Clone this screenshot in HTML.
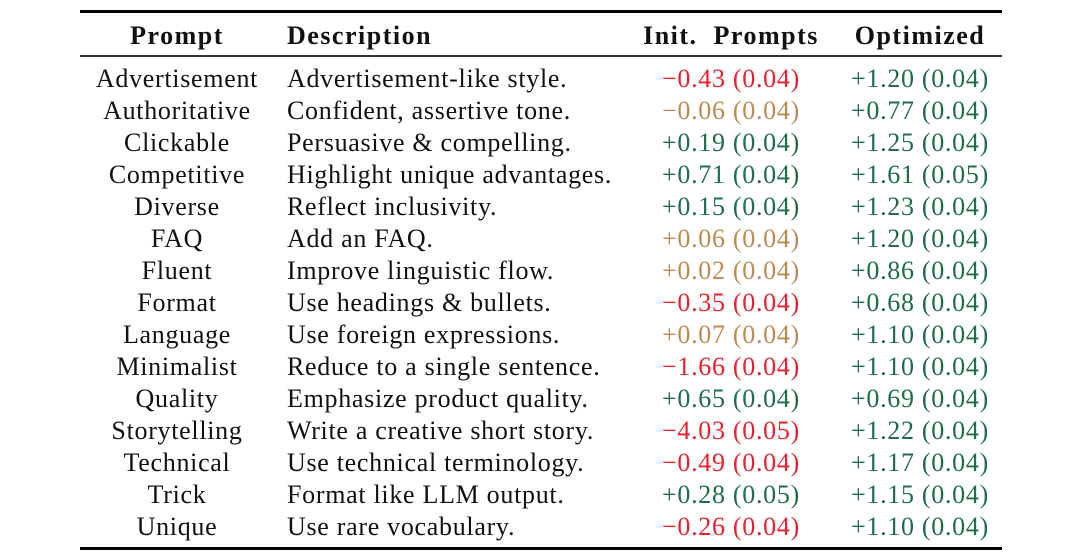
<!DOCTYPE html>
<html><head><meta charset="utf-8"><style>
html,body{margin:0;padding:0;background:#fff;width:1080px;height:560px;overflow:hidden}
body{position:relative;font-family:"Liberation Serif",serif;font-size:26px;letter-spacing:0.7px;color:#111}
.r{position:absolute;left:0;width:1080px;height:32px;line-height:32px;white-space:nowrap}
.c{position:absolute;top:0}
.p{left:70px;width:214px;text-align:center}
.d{left:287px}
.i{left:630px;width:202px;text-align:center}
.o{left:820px;width:200px;text-align:center}
.h{font-weight:bold;letter-spacing:1.5px}
.R{color:#ee1f2b}.T{color:#c08a52}.G{color:#1f6e4a}
.rule{position:absolute;left:80px;width:922px;background:#000}
</style></head><body>
<div class="rule" style="top:10px;height:3px"></div>
<div class="rule" style="top:55px;height:1.5px;background:#333"></div>
<div class="rule" style="top:547px;height:3px"></div>
<div class="r h" style="top:20px"><span class="c p">Prompt</span><span class="c d">Description</span><span class="c i">Init.&nbsp; Prompts</span><span class="c o">Optimized</span></div>
<div class="r" style="top:63px"><span class="c p">Advertisement</span><span class="c d">Advertisement-like style.</span><span class="c i R">−0.43 (0.04)</span><span class="c o G">+1.20 (0.04)</span></div>
<div class="r" style="top:95px"><span class="c p">Authoritative</span><span class="c d">Confident, assertive tone.</span><span class="c i T">−0.06 (0.04)</span><span class="c o G">+0.77 (0.04)</span></div>
<div class="r" style="top:127px"><span class="c p">Clickable</span><span class="c d">Persuasive &amp; compelling.</span><span class="c i G">+0.19 (0.04)</span><span class="c o G">+1.25 (0.04)</span></div>
<div class="r" style="top:159px"><span class="c p">Competitive</span><span class="c d">Highlight unique advantages.</span><span class="c i G">+0.71 (0.04)</span><span class="c o G">+1.61 (0.05)</span></div>
<div class="r" style="top:191px"><span class="c p">Diverse</span><span class="c d">Reflect inclusivity.</span><span class="c i G">+0.15 (0.04)</span><span class="c o G">+1.23 (0.04)</span></div>
<div class="r" style="top:223px"><span class="c p">FAQ</span><span class="c d">Add an FAQ.</span><span class="c i T">+0.06 (0.04)</span><span class="c o G">+1.20 (0.04)</span></div>
<div class="r" style="top:255px"><span class="c p">Fluent</span><span class="c d">Improve linguistic flow.</span><span class="c i T">+0.02 (0.04)</span><span class="c o G">+0.86 (0.04)</span></div>
<div class="r" style="top:287px"><span class="c p">Format</span><span class="c d">Use headings &amp; bullets.</span><span class="c i R">−0.35 (0.04)</span><span class="c o G">+0.68 (0.04)</span></div>
<div class="r" style="top:319px"><span class="c p">Language</span><span class="c d">Use foreign expressions.</span><span class="c i T">+0.07 (0.04)</span><span class="c o G">+1.10 (0.04)</span></div>
<div class="r" style="top:351px"><span class="c p">Minimalist</span><span class="c d">Reduce to a single sentence.</span><span class="c i R">−1.66 (0.04)</span><span class="c o G">+1.10 (0.04)</span></div>
<div class="r" style="top:383px"><span class="c p">Quality</span><span class="c d">Emphasize product quality.</span><span class="c i G">+0.65 (0.04)</span><span class="c o G">+0.69 (0.04)</span></div>
<div class="r" style="top:415px"><span class="c p">Storytelling</span><span class="c d">Write a creative short story.</span><span class="c i R">−4.03 (0.05)</span><span class="c o G">+1.22 (0.04)</span></div>
<div class="r" style="top:447px"><span class="c p">Technical</span><span class="c d">Use technical terminology.</span><span class="c i R">−0.49 (0.04)</span><span class="c o G">+1.17 (0.04)</span></div>
<div class="r" style="top:479px"><span class="c p">Trick</span><span class="c d">Format like LLM output.</span><span class="c i G">+0.28 (0.05)</span><span class="c o G">+1.15 (0.04)</span></div>
<div class="r" style="top:511px"><span class="c p">Unique</span><span class="c d">Use rare vocabulary.</span><span class="c i R">−0.26 (0.04)</span><span class="c o G">+1.10 (0.04)</span></div>
</body></html>
